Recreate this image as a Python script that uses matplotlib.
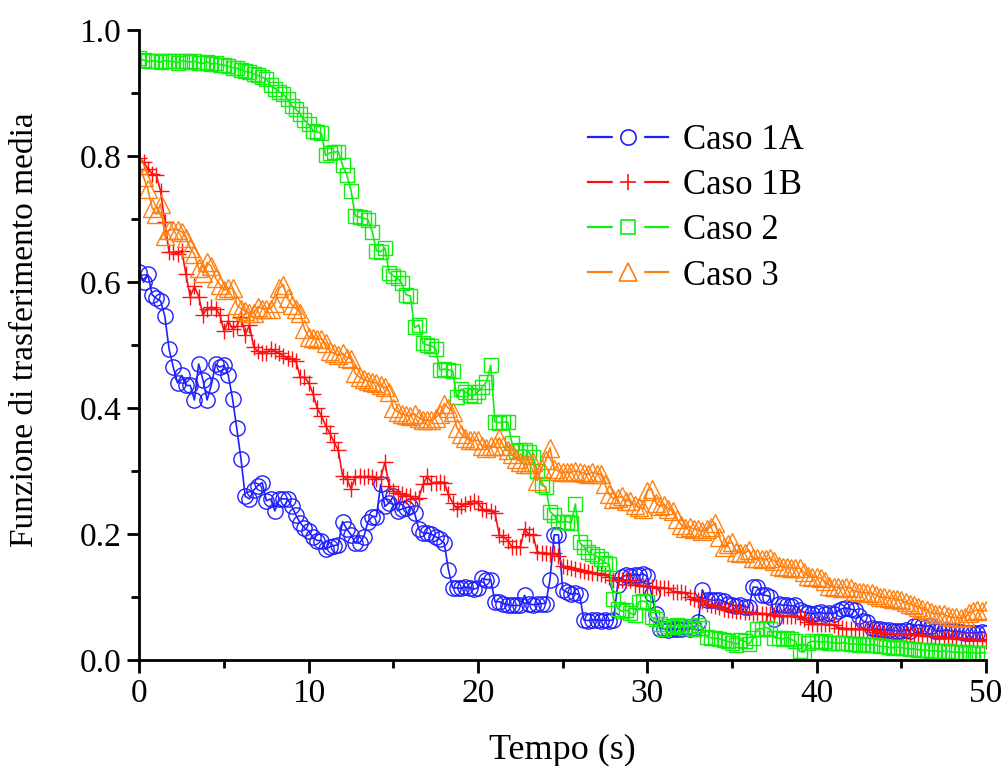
import numpy as np
import matplotlib
matplotlib.use("Agg")
import matplotlib.pyplot as plt
from matplotlib.lines import Line2D
from matplotlib.legend_handler import HandlerTuple

# Tempo (s): campioni ogni 0.25 s da 0 a 50
tempo = np.arange(201) * 0.25

caso_1a = [
    0.616, 0.600, 0.612, 0.580, 0.574, 0.570, 0.546, 0.494,
    0.465, 0.440, 0.452, 0.436, 0.436, 0.413, 0.470, 0.445,
    0.413, 0.437, 0.470, 0.465, 0.468, 0.452, 0.415, 0.368,
    0.319, 0.260, 0.256, 0.270, 0.277, 0.282, 0.253, 0.256,
    0.237, 0.256, 0.256, 0.256, 0.244, 0.230, 0.218, 0.210,
    0.205, 0.195, 0.190, 0.190, 0.176, 0.180, 0.182, 0.183,
    0.220, 0.208, 0.199, 0.186, 0.186, 0.196, 0.220, 0.228,
    0.228, 0.279, 0.244, 0.250, 0.260, 0.237, 0.240, 0.242,
    0.244, 0.234, 0.208, 0.202, 0.202, 0.200, 0.196, 0.192,
    0.186, 0.144, 0.115, 0.115, 0.114, 0.116, 0.115, 0.113,
    0.115, 0.130, 0.128, 0.128, 0.093, 0.093, 0.090, 0.088,
    0.087, 0.087, 0.087, 0.103, 0.090, 0.088, 0.089, 0.090,
    0.090, 0.128, 0.199, 0.199, 0.112, 0.108, 0.105, 0.106,
    0.104, 0.064, 0.063, 0.064, 0.064, 0.063, 0.064, 0.063,
    0.064, 0.120, 0.132, 0.135, 0.134, 0.136, 0.135, 0.137,
    0.133, 0.105, 0.074, 0.050, 0.050, 0.048, 0.050, 0.049,
    0.050, 0.051, 0.050, 0.052, 0.060, 0.112, 0.096, 0.096,
    0.095, 0.096, 0.094, 0.090, 0.088, 0.086, 0.088, 0.085,
    0.084, 0.116, 0.116, 0.104, 0.103, 0.101, 0.065, 0.090,
    0.087, 0.088, 0.086, 0.087, 0.080, 0.076, 0.075, 0.074,
    0.075, 0.076, 0.074, 0.075, 0.074, 0.078, 0.082, 0.083,
    0.081, 0.080, 0.070, 0.062, 0.060, 0.052, 0.050, 0.049,
    0.048, 0.048, 0.047, 0.047, 0.046, 0.048, 0.047, 0.055,
    0.056, 0.055, 0.054, 0.055, 0.047, 0.046, 0.047, 0.048,
    0.046, 0.046, 0.045, 0.044, 0.043, 0.044, 0.043, 0.045,
    0.044,
]

caso_1b = [
    0.797, 0.790, 0.780, 0.772, 0.770, 0.744, 0.695, 0.647,
    0.647, 0.644, 0.650, 0.612, 0.577, 0.593, 0.577, 0.548,
    0.558, 0.560, 0.558, 0.548, 0.522, 0.538, 0.526, 0.530,
    0.545, 0.516, 0.532, 0.497, 0.490, 0.488, 0.487, 0.494,
    0.490, 0.487, 0.483, 0.480, 0.478, 0.474, 0.449, 0.449,
    0.440, 0.423, 0.400, 0.388, 0.372, 0.360, 0.346, 0.333,
    0.292, 0.288, 0.272, 0.290, 0.292, 0.290, 0.292, 0.291,
    0.288, 0.290, 0.314, 0.276, 0.269, 0.265, 0.263, 0.261,
    0.260, 0.256, 0.258, 0.279, 0.292, 0.282, 0.282, 0.283,
    0.282, 0.263, 0.250, 0.240, 0.244, 0.248, 0.250, 0.253,
    0.250, 0.240, 0.238, 0.237, 0.234, 0.199, 0.196, 0.190,
    0.180, 0.180, 0.180, 0.208, 0.200, 0.198, 0.172, 0.170,
    0.170, 0.168, 0.170, 0.165, 0.150, 0.148, 0.146, 0.145,
    0.143, 0.142, 0.140, 0.138, 0.138, 0.137, 0.136, 0.132,
    0.128, 0.128, 0.127, 0.128, 0.127, 0.120, 0.120, 0.118,
    0.118, 0.117, 0.116, 0.115, 0.115, 0.114, 0.109, 0.109,
    0.108, 0.107, 0.100, 0.098, 0.096, 0.094, 0.090, 0.088,
    0.086, 0.084, 0.082, 0.080, 0.080, 0.078, 0.078, 0.076,
    0.076, 0.075, 0.075, 0.074, 0.074, 0.073, 0.072, 0.071,
    0.071, 0.071, 0.070, 0.070, 0.069, 0.066, 0.060, 0.058,
    0.058, 0.058, 0.057, 0.057, 0.056, 0.052, 0.051, 0.050,
    0.050, 0.050, 0.049, 0.050, 0.049, 0.048, 0.045, 0.043,
    0.043, 0.042, 0.042, 0.042, 0.042, 0.041, 0.041, 0.040,
    0.040, 0.040, 0.039, 0.038, 0.038, 0.037, 0.036, 0.036,
    0.035, 0.035, 0.034, 0.034, 0.033, 0.033, 0.032, 0.032,
    0.031,
]

caso_2 = [
    0.955, 0.952, 0.950, 0.951, 0.950, 0.949, 0.951, 0.950,
    0.950, 0.948, 0.951, 0.950, 0.949, 0.950, 0.948, 0.947,
    0.949, 0.946, 0.947, 0.945, 0.944, 0.942, 0.940, 0.939,
    0.937, 0.934, 0.933, 0.930, 0.928, 0.925, 0.922, 0.912,
    0.907, 0.902, 0.898, 0.890, 0.880, 0.874, 0.866, 0.857,
    0.850, 0.840, 0.838, 0.836, 0.801, 0.805, 0.806, 0.807,
    0.785, 0.770, 0.745, 0.705, 0.703, 0.701, 0.699, 0.680,
    0.650, 0.648, 0.654, 0.615, 0.610, 0.606, 0.598, 0.580,
    0.578, 0.528, 0.532, 0.503, 0.500, 0.499, 0.494, 0.460,
    0.462, 0.461, 0.459, 0.417, 0.430, 0.426, 0.421, 0.420,
    0.426, 0.433, 0.442, 0.468, 0.378, 0.377, 0.378, 0.378,
    0.345, 0.332, 0.333, 0.334, 0.330, 0.322, 0.300, 0.278,
    0.275, 0.236, 0.230, 0.220, 0.219, 0.220, 0.218, 0.248,
    0.187, 0.180, 0.172, 0.168, 0.165, 0.160, 0.155, 0.152,
    0.097, 0.082, 0.078, 0.080, 0.075, 0.072, 0.093, 0.094,
    0.092, 0.068, 0.065, 0.058, 0.050, 0.055, 0.053, 0.056,
    0.055, 0.052, 0.054, 0.050, 0.056, 0.052, 0.037, 0.036,
    0.035, 0.034, 0.032, 0.030, 0.028, 0.025, 0.032, 0.030,
    0.026, 0.035, 0.050, 0.050, 0.052, 0.050, 0.036, 0.035,
    0.034, 0.036, 0.033, 0.030, 0.014, 0.013, 0.028, 0.030,
    0.030, 0.029, 0.030, 0.028, 0.028, 0.027, 0.028, 0.027,
    0.026, 0.026, 0.025, 0.026, 0.024, 0.025, 0.024, 0.022,
    0.022, 0.021, 0.020, 0.021, 0.020, 0.019, 0.018, 0.018,
    0.017, 0.016, 0.016, 0.015, 0.015, 0.014, 0.015, 0.014,
    0.013, 0.013, 0.012, 0.013, 0.012, 0.012, 0.011, 0.012,
    0.012,
]

caso_3 = [
    0.786, 0.766, 0.747, 0.718, 0.708, 0.724, 0.673, 0.683,
    0.683, 0.683, 0.680, 0.670, 0.654, 0.644, 0.622, 0.615,
    0.631, 0.625, 0.606, 0.596, 0.587, 0.590, 0.590, 0.564,
    0.558, 0.554, 0.551, 0.551, 0.561, 0.558, 0.558, 0.558,
    0.567, 0.590, 0.596, 0.574, 0.564, 0.558, 0.551, 0.526,
    0.513, 0.512, 0.510, 0.510, 0.503, 0.490, 0.487, 0.484,
    0.487, 0.480, 0.478, 0.455, 0.449, 0.446, 0.443, 0.442,
    0.440, 0.436, 0.433, 0.426, 0.400, 0.394, 0.391, 0.389,
    0.388, 0.391, 0.385, 0.381, 0.381, 0.381, 0.385, 0.391,
    0.407, 0.400, 0.394, 0.369, 0.359, 0.353, 0.350, 0.349,
    0.349, 0.340, 0.337, 0.340, 0.340, 0.353, 0.340, 0.333,
    0.327, 0.320, 0.315, 0.311, 0.311, 0.315, 0.285, 0.305,
    0.317, 0.337, 0.304, 0.300, 0.298, 0.299, 0.298, 0.301,
    0.298, 0.297, 0.295, 0.298, 0.296, 0.295, 0.279, 0.263,
    0.256, 0.258, 0.260, 0.253, 0.253, 0.247, 0.243, 0.240,
    0.269, 0.272, 0.250, 0.244, 0.247, 0.240, 0.237, 0.224,
    0.215, 0.210, 0.212, 0.208, 0.208, 0.205, 0.208, 0.212,
    0.218, 0.195, 0.180, 0.185, 0.187, 0.172, 0.170, 0.170,
    0.175, 0.162, 0.162, 0.161, 0.160, 0.162, 0.158, 0.150,
    0.148, 0.148, 0.147, 0.146, 0.146, 0.140, 0.133, 0.132,
    0.132, 0.130, 0.125, 0.118, 0.116, 0.116, 0.115, 0.116,
    0.114, 0.110, 0.108, 0.108, 0.107, 0.106, 0.104, 0.100,
    0.100, 0.099, 0.098, 0.097, 0.095, 0.092, 0.090, 0.088,
    0.085, 0.082, 0.080, 0.076, 0.074, 0.074, 0.073, 0.070,
    0.068, 0.068, 0.067, 0.068, 0.075, 0.078, 0.080, 0.078,
    0.079,
]

etichette = ["Caso 1A", "Caso 1B", "Caso 2", "Caso 3"]
colori = ["#1f1fff", "#ff1010", "#10ee10", "#ff8010"]
marcatori = ["o", "+", "s", "^"]
dimensioni = [11, 12, 10, 13]

plt.rcParams["font.family"] = ["Liberation Serif", "DejaVu Serif"]

fig = plt.figure(figsize=(10.03, 7.66), dpi=100)
ax = fig.add_axes([0.139, 0.138, 0.844, 0.823])

serie = [caso_1a, caso_1b, caso_2, caso_3]
maniglie = []
for y, lab, c, m, ms in zip(serie, etichette, colori, marcatori, dimensioni):
    ax.plot(tempo, y, color=c, lw=1.2, marker=m, ms=ms, mfc="none",
            mec=c, mew=1.0, zorder=3)
    # voce di legenda stile Origin: linea interrotta attorno al simbolo
    linea = Line2D([], [], color=c, lw=1.6)
    fondo = Line2D([], [], ls="none", marker="s", ms=22, mfc="white",
                   mec="white")
    segno = Line2D([], [], ls="none", marker=m, ms=ms, mfc="none",
                   mec=c, mew=1.2)
    maniglie.append((linea, fondo, segno))

ax.set_xlim(0, 50)
ax.set_ylim(0, 1.0)
ax.set_xticks([0, 10, 20, 30, 40, 50])
ax.set_xticks([5, 15, 25, 35, 45], minor=True)
ax.set_yticks([0.0, 0.2, 0.4, 0.6, 0.8, 1.0])
ax.set_yticks([0.1, 0.3, 0.5, 0.7, 0.9], minor=True)
ax.set_yticklabels(["0.0", "0.2", "0.4", "0.6", "0.8", "1.0"])

for s in ["top", "right"]:
    ax.spines[s].set_visible(False)
for s in ["left", "bottom"]:
    ax.spines[s].set_linewidth(2.0)
    ax.spines[s].set_zorder(5)
ax.tick_params(which="major", direction="out", length=9, width=2.0,
               labelsize=24, pad=4)
ax.tick_params(which="minor", direction="out", length=5.5, width=2.0)

ax.set_xlabel("Tempo (s)", fontsize=26, labelpad=18)
ax.set_ylabel("Funzione di trasferimento media", fontsize=24)
ax.yaxis.set_label_coords(-0.118, 0.525)

ax.legend(maniglie, etichette,
          handler_map={tuple: HandlerTuple(ndivide=1, pad=0)},
          loc="upper left", bbox_to_anchor=(0.493, 0.9), frameon=False,
          fontsize=25, handlelength=2.3, handletextpad=0.45, labelspacing=0.35)

fig.savefig("out.png", dpi=100)
